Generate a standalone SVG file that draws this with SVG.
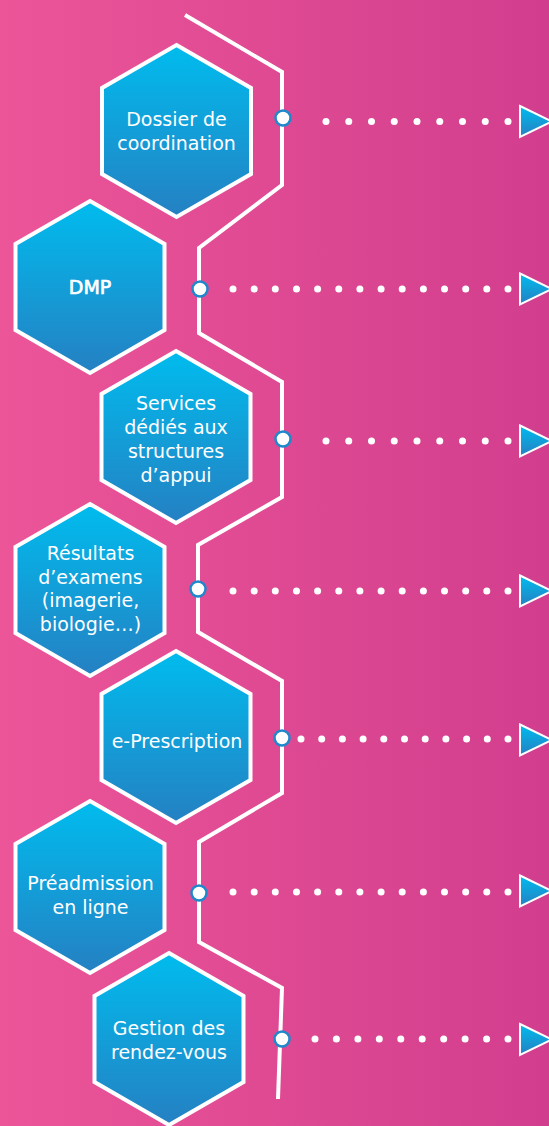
<svg xmlns="http://www.w3.org/2000/svg" xmlns:xlink="http://www.w3.org/1999/xlink" width="549" height="1126" viewBox="0 0 549 1126">
<defs>
<linearGradient id="bg" x1="0" y1="0" x2="1" y2="0">
<stop offset="0" stop-color="#EC5598"/>
<stop offset="1" stop-color="#D23E8E"/>
</linearGradient>
<linearGradient id="hexg" x1="0" y1="0" x2="0" y2="1">
<stop offset="0" stop-color="#00BCEE"/>
<stop offset="1" stop-color="#2580C2"/>
</linearGradient>
<polygon id="hex" points="0,-86 74.5,-43 74.5,43 0,86 -74.5,43 -74.5,-43"/>
<polygon id="arrow" points="0,-15.5 32,0 0,15.5"/>
<circle id="dot" r="3.5"/>
</defs>
<style>
.hex{fill:url(#hexg);stroke:#FFFFFF;stroke-width:4;stroke-linejoin:miter}
.lbl{font-family:"DejaVu Sans","Open Sans",sans-serif;font-size:19px;fill:#FFFFFF;text-anchor:middle}
.bold{stroke:#FFFFFF;stroke-width:0.7}
.track{fill:none;stroke:#FFFFFF;stroke-width:4;stroke-linejoin:miter}
.knob{fill:#FFFFFF;stroke:#1E88CA;stroke-width:2.5}
.dots use{fill:#FFFFFF}
.arr{fill:url(#hexg);stroke:#FFFFFF;stroke-width:2}
</style>
<rect width="549" height="1126" fill="url(#bg)"/>

<g id="connectors">
<polyline class="track" points="185,15 282,72 282,185 199,248 199,333 282,382 282,497 198,545 198,632 282,681 282,793 199,842 199,942 282,988 278,1099"/>
<g class="dots">
<use href="#dot" x="326" y="121.5"/><use href="#dot" x="348.75" y="121.5"/><use href="#dot" x="371.5" y="121.5"/><use href="#dot" x="394.25" y="121.5"/><use href="#dot" x="417" y="121.5"/><use href="#dot" x="439.75" y="121.5"/><use href="#dot" x="462.5" y="121.5"/><use href="#dot" x="485.25" y="121.5"/><use href="#dot" x="508" y="121.5"/>
<use href="#dot" x="233" y="289"/><use href="#dot" x="254.2" y="289"/><use href="#dot" x="275.3" y="289"/><use href="#dot" x="296.5" y="289"/><use href="#dot" x="317.6" y="289"/><use href="#dot" x="338.8" y="289"/><use href="#dot" x="359.9" y="289"/><use href="#dot" x="381.1" y="289"/><use href="#dot" x="402.2" y="289"/><use href="#dot" x="423.4" y="289"/><use href="#dot" x="444.5" y="289"/><use href="#dot" x="465.7" y="289"/><use href="#dot" x="486.8" y="289"/><use href="#dot" x="508" y="289"/>
<use href="#dot" x="326" y="441"/><use href="#dot" x="348.75" y="441"/><use href="#dot" x="371.5" y="441"/><use href="#dot" x="394.25" y="441"/><use href="#dot" x="417" y="441"/><use href="#dot" x="439.75" y="441"/><use href="#dot" x="462.5" y="441"/><use href="#dot" x="485.25" y="441"/><use href="#dot" x="508" y="441"/>
<use href="#dot" x="233" y="591"/><use href="#dot" x="254.2" y="591"/><use href="#dot" x="275.3" y="591"/><use href="#dot" x="296.5" y="591"/><use href="#dot" x="317.6" y="591"/><use href="#dot" x="338.8" y="591"/><use href="#dot" x="359.9" y="591"/><use href="#dot" x="381.1" y="591"/><use href="#dot" x="402.2" y="591"/><use href="#dot" x="423.4" y="591"/><use href="#dot" x="444.5" y="591"/><use href="#dot" x="465.7" y="591"/><use href="#dot" x="486.8" y="591"/><use href="#dot" x="508" y="591"/>
<use href="#dot" x="301" y="739"/><use href="#dot" x="321.7" y="739"/><use href="#dot" x="342.4" y="739"/><use href="#dot" x="363.1" y="739"/><use href="#dot" x="383.8" y="739"/><use href="#dot" x="404.5" y="739"/><use href="#dot" x="425.2" y="739"/><use href="#dot" x="445.9" y="739"/><use href="#dot" x="466.6" y="739"/><use href="#dot" x="487.3" y="739"/><use href="#dot" x="508" y="739"/>
<use href="#dot" x="233" y="892"/><use href="#dot" x="254.2" y="892"/><use href="#dot" x="275.3" y="892"/><use href="#dot" x="296.5" y="892"/><use href="#dot" x="317.6" y="892"/><use href="#dot" x="338.8" y="892"/><use href="#dot" x="359.9" y="892"/><use href="#dot" x="381.1" y="892"/><use href="#dot" x="402.2" y="892"/><use href="#dot" x="423.4" y="892"/><use href="#dot" x="444.5" y="892"/><use href="#dot" x="465.7" y="892"/><use href="#dot" x="486.8" y="892"/><use href="#dot" x="508" y="892"/>
<use href="#dot" x="315" y="1039"/><use href="#dot" x="336.4" y="1039"/><use href="#dot" x="357.9" y="1039"/><use href="#dot" x="379.3" y="1039"/><use href="#dot" x="400.8" y="1039"/><use href="#dot" x="422.2" y="1039"/><use href="#dot" x="443.7" y="1039"/><use href="#dot" x="465.1" y="1039"/><use href="#dot" x="486.6" y="1039"/><use href="#dot" x="508" y="1039"/>
</g>
<g class="arrows">
<use class="arr" href="#arrow" x="520" y="121.5"/>
<use class="arr" href="#arrow" x="520" y="289"/>
<use class="arr" href="#arrow" x="520" y="441"/>
<use class="arr" href="#arrow" x="520" y="591"/>
<use class="arr" href="#arrow" x="520" y="740"/>
<use class="arr" href="#arrow" x="520" y="891"/>
<use class="arr" href="#arrow" x="520" y="1039.5"/>
</g>
<g class="knobs">
<circle class="knob" cx="283" cy="118" r="7.5"/>
<circle class="knob" cx="200" cy="289" r="7.5"/>
<circle class="knob" cx="283" cy="439" r="7.5"/>
<circle class="knob" cx="198" cy="589" r="7.5"/>
<circle class="knob" cx="282" cy="738" r="7.5"/>
<circle class="knob" cx="199" cy="893" r="7.5"/>
<circle class="knob" cx="282" cy="1039" r="7.5"/>
</g>
</g>

<g id="node-dossier">
<use class="hex" href="#hex" x="176.5" y="131"/>
<text class="lbl" x="176.5" y="126">Dossier de</text>
<text class="lbl" x="176.5" y="150">coordination</text>
</g>
<g id="node-dmp">
<use class="hex" href="#hex" x="90" y="287"/>
<text class="lbl bold" x="90" y="294">DMP</text>
</g>
<g id="node-services">
<use class="hex" href="#hex" x="176" y="437"/>
<text class="lbl" x="176" y="410">Services</text>
<text class="lbl" x="176" y="434">dédiés aux</text>
<text class="lbl" x="176" y="458">structures</text>
<text class="lbl" x="176" y="482">d’appui</text>
</g>
<g id="node-resultats">
<use class="hex" href="#hex" x="90" y="590"/>
<text class="lbl" x="90.5" y="560">Résultats</text>
<text class="lbl" x="90.5" y="583.5">d’examens</text>
<text class="lbl" x="90.5" y="607">(imagerie,</text>
<text class="lbl" x="90.5" y="630.5">biologie…)</text>
</g>
<g id="node-eprescription">
<use class="hex" href="#hex" x="176" y="737"/>
<text class="lbl" x="177" y="748">e-Prescription</text>
</g>
<g id="node-preadmission">
<use class="hex" href="#hex" x="90" y="887"/>
<text class="lbl" x="90.5" y="890">Préadmission</text>
<text class="lbl" x="90.5" y="913.5">en ligne</text>
</g>
<g id="node-rdv">
<use class="hex" href="#hex" x="169" y="1039"/>
<text class="lbl" x="169" y="1035">Gestion des</text>
<text class="lbl" x="169" y="1058.5">rendez-vous</text>
</g>
</svg>
